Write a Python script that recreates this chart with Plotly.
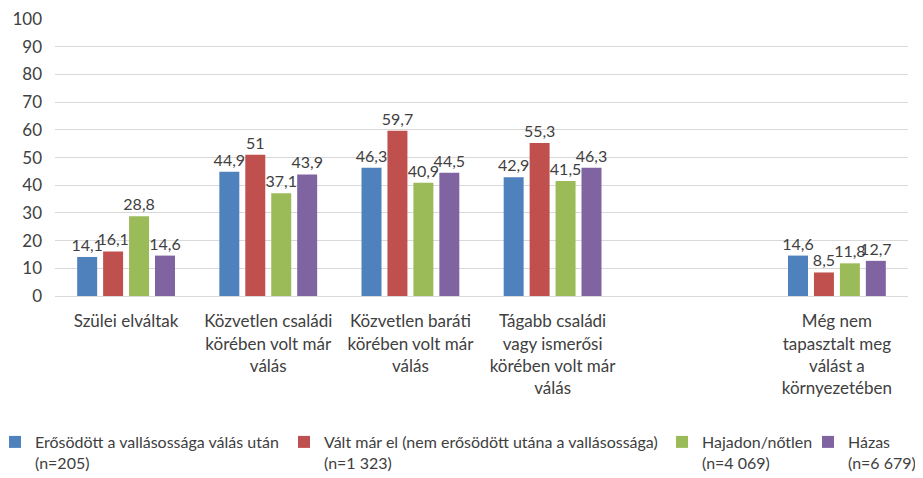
import plotly.graph_objects as go

categories = ["Szülei elváltak",
              "Közvetlen családi<br>körében volt már<br>válás",
              "Közvetlen baráti<br>körében volt már<br>válás",
              "Tágabb családi<br>vagy ismerősi<br>körében volt már<br>válás",
              " ",
              "Még nem<br>tapasztalt meg<br>válást a<br>környezetében"]

series_names = ["Erősödött a vallásossága válás után<br>(n=205)",
                "Vált már el (nem erősödött utána a vallásossága)<br>(n=1 323)",
                "Hajadon/nőtlen<br>(n=4 069)",
                "Házas<br>(n=6 679)"]

erosodott = [14.1, 44.9, 46.3, 42.9, None, 14.6]
valt_mar_el = [16.1, 51, 59.7, 55.3, None, 8.5]
hajadon = [28.8, 37.1, 40.9, 41.5, None, 11.8]
hazas = [14.6, 43.9, 44.5, 46.3, None, 12.7]

colors = ["#4f81bd", "#c0504d", "#9bbb59", "#8064a2"]
values = [erosodott, valt_mar_el, hajadon, hazas]
legend_ids = ["legend", "legend2", "legend3", "legend4"]

# page offset of the plot div (browser body margin)
OFF = 8
# legend item left edges, in page px
legend_px = [-5, 284, 662, 808]
legend_top_px = 425

font = "Lato"
txt = "#404040"
W, H = 923 - OFF, 478 - OFF
L, R, T = 55 - OFF, 15, 19 - OFF
ph = 277
B = H - T - ph
pw = W - L - R

fig = go.Figure()
for name, vals, c, lg in zip(series_names, values, colors, legend_ids):
    fig.add_trace(go.Bar(
        x=categories, y=vals, name=name, legend=lg,
        marker=dict(color=c, line=dict(color=c, width=0)),
        texttemplate="%{y}", textposition="outside", cliponaxis=False,
        constraintext="none",
        textfont=dict(family=font, size=16, color=txt),
    ))

legend_y = (T + ph - (legend_top_px - OFF)) / ph
layout_legends = {}
for lg, px in zip(legend_ids, legend_px):
    layout_legends[lg] = dict(
        orientation="h", x=(px - OFF - L) / pw, xanchor="left", y=legend_y, yanchor="top",
        valign="top", font=dict(family=font, size=16, color=txt),
        itemwidth=30, bgcolor="rgba(0,0,0,0)")

fig.update_layout(
    width=W, height=H,
    margin=dict(l=L, r=R, t=T, b=B, autoexpand=False),
    paper_bgcolor="white", plot_bgcolor="white",
    barmode="group", bargap=0.27, bargroupgap=0.23,
    separators=", ",
    font=dict(family=font, size=16, color=txt),
    showlegend=True,
    xaxis=dict(type="category", showgrid=False, showline=True, linecolor="#d9d9d9",
               linewidth=1, ticks="", tickfont=dict(family=font, size=17, color=txt),
               tickangle=0, automargin=False, ticklabelstandoff=10),
    yaxis=dict(range=[0, 100.05], tickvals=list(range(0, 101, 10)), showgrid=True,
               gridcolor="#d9d9d9", gridwidth=1, zeroline=False, showline=False, ticks="",
               automargin=False, ticklabelstandoff=12,
               tickfont=dict(family=font, size=17, color=txt)),
    **layout_legends,
)

fig.write_html("out.html")
